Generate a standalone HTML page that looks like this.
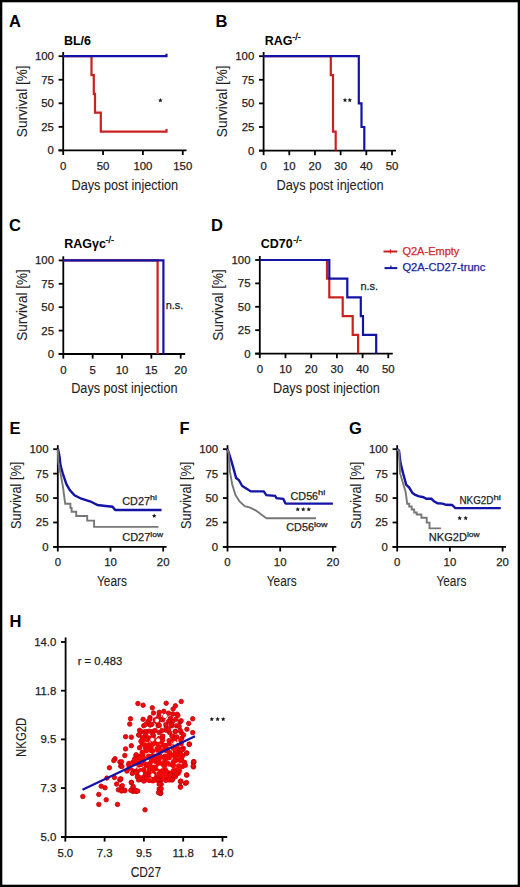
<!DOCTYPE html><html><head><meta charset="utf-8"><style>html,body{margin:0;padding:0;background:#fff;}svg{display:block}</style></head><body>
<svg width="520" height="887" viewBox="0 0 520 887" font-family='"Liberation Sans", sans-serif'>
<rect x="0" y="0" width="520" height="887" fill="#fff"/>
<text x="9" y="27.3" font-size="16.5" font-weight="bold" fill="#000">A</text>
<text x="215.5" y="27.3" font-size="16.5" font-weight="bold" fill="#000">B</text>
<text x="9" y="230.5" font-size="16.5" font-weight="bold" fill="#000">C</text>
<text x="211" y="230.5" font-size="16.5" font-weight="bold" fill="#000">D</text>
<text x="9.4" y="433.6" font-size="16.5" font-weight="bold" fill="#000">E</text>
<text x="179.5" y="433.6" font-size="16.5" font-weight="bold" fill="#000">F</text>
<text x="349" y="433.6" font-size="16.5" font-weight="bold" fill="#000">G</text>
<text x="9.5" y="626.9" font-size="16.5" font-weight="bold" fill="#000">H</text>
<line x1="63.2" y1="52" x2="63.2" y2="151.3" stroke="#000" stroke-width="1.8"/>
<line x1="58.6" y1="150.4" x2="186.5" y2="150.4" stroke="#000" stroke-width="1.8"/>
<line x1="58.6" y1="150.4" x2="63.2" y2="150.4" stroke="#000" stroke-width="1.8"/>
<text x="53.900000000000006" y="154.3" font-size="11.4" text-anchor="end" fill="#1e1e1e" stroke="#1e1e1e" stroke-width="0.25">0</text>
<line x1="58.6" y1="126.85000000000001" x2="63.2" y2="126.85000000000001" stroke="#000" stroke-width="1.8"/>
<text x="53.900000000000006" y="130.75" font-size="11.4" text-anchor="end" fill="#1e1e1e" stroke="#1e1e1e" stroke-width="0.25">25</text>
<line x1="58.6" y1="103.30000000000001" x2="63.2" y2="103.30000000000001" stroke="#000" stroke-width="1.8"/>
<text x="53.900000000000006" y="107.20000000000002" font-size="11.4" text-anchor="end" fill="#1e1e1e" stroke="#1e1e1e" stroke-width="0.25">50</text>
<line x1="58.6" y1="79.75" x2="63.2" y2="79.75" stroke="#000" stroke-width="1.8"/>
<text x="53.900000000000006" y="83.65" font-size="11.4" text-anchor="end" fill="#1e1e1e" stroke="#1e1e1e" stroke-width="0.25">75</text>
<line x1="58.6" y1="56.2" x2="63.2" y2="56.2" stroke="#000" stroke-width="1.8"/>
<text x="53.900000000000006" y="60.1" font-size="11.4" text-anchor="end" fill="#1e1e1e" stroke="#1e1e1e" stroke-width="0.25">100</text>
<line x1="63.2" y1="150.4" x2="63.2" y2="155.0" stroke="#000" stroke-width="1.8"/>
<line x1="103.05000000000001" y1="150.4" x2="103.05000000000001" y2="155.0" stroke="#000" stroke-width="1.8"/>
<line x1="142.9" y1="150.4" x2="142.9" y2="155.0" stroke="#000" stroke-width="1.8"/>
<line x1="182.75" y1="150.4" x2="182.75" y2="155.0" stroke="#000" stroke-width="1.8"/>
<text x="63.2" y="169.9" font-size="11.4" text-anchor="middle" fill="#1e1e1e" stroke="#1e1e1e" stroke-width="0.25">0</text>
<text x="103.05000000000001" y="169.9" font-size="11.4" text-anchor="middle" fill="#1e1e1e" stroke="#1e1e1e" stroke-width="0.25">50</text>
<text x="142.9" y="169.9" font-size="11.4" text-anchor="middle" fill="#1e1e1e" stroke="#1e1e1e" stroke-width="0.25">100</text>
<text x="182.75" y="169.9" font-size="11.4" text-anchor="middle" fill="#1e1e1e" stroke="#1e1e1e" stroke-width="0.25">150</text>
<text x="71.5" y="189.6" font-size="15.4" textLength="106.6" lengthAdjust="spacingAndGlyphs" fill="#1e1e1e" stroke="#1e1e1e" stroke-width="0.08">Days post injection</text>
<text x="0" y="0" font-size="15.4" text-anchor="middle" textLength="71.7" lengthAdjust="spacingAndGlyphs" fill="#1e1e1e" stroke="#1e1e1e" stroke-width="0.08" transform="translate(27.1,101.3) rotate(-90)">Survival [%]</text>
<text x="63.9" y="44.7" font-size="12.5" font-weight="bold" fill="#000">BL/6</text>
<polyline points="63.20,56.20 91.50,56.20 91.50,75.04 93.80,75.04 93.80,93.88 95.00,93.88 95.00,112.72 100.80,112.72 100.80,131.56 166.50,131.56 166.50,129.06" fill="none" stroke="#cc2020" stroke-width="2.2" stroke-linejoin="miter"/>
<polyline points="63.20,56.20 166.50,56.20 166.50,53.70" fill="none" stroke="#1313a6" stroke-width="2.2" stroke-linejoin="miter"/>
<polygon points="160.40,98.00 161.05,99.51 162.68,99.66 161.45,100.74 161.81,102.34 160.40,101.50 158.99,102.34 159.35,100.74 158.12,99.66 159.75,99.51" fill="#1a1a1a"/>
<line x1="263.6" y1="52" x2="263.6" y2="151.5" stroke="#000" stroke-width="1.8"/>
<line x1="259.0" y1="150.6" x2="396" y2="150.6" stroke="#000" stroke-width="1.8"/>
<line x1="259.0" y1="150.6" x2="263.6" y2="150.6" stroke="#000" stroke-width="1.8"/>
<text x="254.3" y="154.5" font-size="11.4" text-anchor="end" fill="#1e1e1e" stroke="#1e1e1e" stroke-width="0.25">0</text>
<line x1="259.0" y1="127.0" x2="263.6" y2="127.0" stroke="#000" stroke-width="1.8"/>
<text x="254.3" y="130.9" font-size="11.4" text-anchor="end" fill="#1e1e1e" stroke="#1e1e1e" stroke-width="0.25">25</text>
<line x1="259.0" y1="103.4" x2="263.6" y2="103.4" stroke="#000" stroke-width="1.8"/>
<text x="254.3" y="107.30000000000001" font-size="11.4" text-anchor="end" fill="#1e1e1e" stroke="#1e1e1e" stroke-width="0.25">50</text>
<line x1="259.0" y1="79.8" x2="263.6" y2="79.8" stroke="#000" stroke-width="1.8"/>
<text x="254.3" y="83.7" font-size="11.4" text-anchor="end" fill="#1e1e1e" stroke="#1e1e1e" stroke-width="0.25">75</text>
<line x1="259.0" y1="56.2" x2="263.6" y2="56.2" stroke="#000" stroke-width="1.8"/>
<text x="254.3" y="60.1" font-size="11.4" text-anchor="end" fill="#1e1e1e" stroke="#1e1e1e" stroke-width="0.25">100</text>
<line x1="263.6" y1="150.6" x2="263.6" y2="155.2" stroke="#000" stroke-width="1.8"/>
<line x1="289.28000000000003" y1="150.6" x2="289.28000000000003" y2="155.2" stroke="#000" stroke-width="1.8"/>
<line x1="314.96000000000004" y1="150.6" x2="314.96000000000004" y2="155.2" stroke="#000" stroke-width="1.8"/>
<line x1="340.64000000000004" y1="150.6" x2="340.64000000000004" y2="155.2" stroke="#000" stroke-width="1.8"/>
<line x1="366.32000000000005" y1="150.6" x2="366.32000000000005" y2="155.2" stroke="#000" stroke-width="1.8"/>
<line x1="392.0" y1="150.6" x2="392.0" y2="155.2" stroke="#000" stroke-width="1.8"/>
<text x="263.6" y="170.1" font-size="11.4" text-anchor="middle" fill="#1e1e1e" stroke="#1e1e1e" stroke-width="0.25">0</text>
<text x="289.28000000000003" y="170.1" font-size="11.4" text-anchor="middle" fill="#1e1e1e" stroke="#1e1e1e" stroke-width="0.25">10</text>
<text x="314.96000000000004" y="170.1" font-size="11.4" text-anchor="middle" fill="#1e1e1e" stroke="#1e1e1e" stroke-width="0.25">20</text>
<text x="340.64000000000004" y="170.1" font-size="11.4" text-anchor="middle" fill="#1e1e1e" stroke="#1e1e1e" stroke-width="0.25">30</text>
<text x="366.32000000000005" y="170.1" font-size="11.4" text-anchor="middle" fill="#1e1e1e" stroke="#1e1e1e" stroke-width="0.25">40</text>
<text x="392.0" y="170.1" font-size="11.4" text-anchor="middle" fill="#1e1e1e" stroke="#1e1e1e" stroke-width="0.25">50</text>
<text x="276.5" y="190" font-size="15.4" textLength="107.2" lengthAdjust="spacingAndGlyphs" fill="#1e1e1e" stroke="#1e1e1e" stroke-width="0.08">Days post injection</text>
<text x="0" y="0" font-size="15.4" text-anchor="middle" textLength="71.7" lengthAdjust="spacingAndGlyphs" fill="#1e1e1e" stroke="#1e1e1e" stroke-width="0.08" transform="translate(226.9,101.3) rotate(-90)">Survival [%]</text>
<text x="264.8" y="44.7" font-size="12.5" font-weight="bold" fill="#000">RAG</text>
<text x="292.2" y="40.2" font-size="9" fill="#000" stroke="#000" stroke-width="0.35">-/-</text>
<polyline points="263.60,56.20 330.80,56.20 330.80,75.08 333.00,75.08 333.00,131.72 335.70,131.72 335.70,150.60" fill="none" stroke="#cc2020" stroke-width="2.2" stroke-linejoin="miter"/>
<polyline points="263.60,56.20 358.80,56.20 358.80,103.40 361.50,103.40 361.50,127.00 364.30,127.00 364.30,150.60" fill="none" stroke="#1313a6" stroke-width="2.2" stroke-linejoin="miter"/>
<polygon points="345.00,97.80 345.65,99.31 347.28,99.46 346.05,100.54 346.41,102.14 345.00,101.30 343.59,102.14 343.95,100.54 342.72,99.46 344.35,99.31" fill="#1a1a1a"/>
<polygon points="349.80,97.80 350.45,99.31 352.08,99.46 350.85,100.54 351.21,102.14 349.80,101.30 348.39,102.14 348.75,100.54 347.52,99.46 349.15,99.31" fill="#1a1a1a"/>
<line x1="63.3" y1="256.3" x2="63.3" y2="354.9" stroke="#000" stroke-width="1.8"/>
<line x1="58.699999999999996" y1="354.0" x2="185.2" y2="354.0" stroke="#000" stroke-width="1.8"/>
<line x1="58.699999999999996" y1="354.0" x2="63.3" y2="354.0" stroke="#000" stroke-width="1.8"/>
<text x="54.0" y="357.9" font-size="11.4" text-anchor="end" fill="#1e1e1e" stroke="#1e1e1e" stroke-width="0.25">0</text>
<line x1="58.699999999999996" y1="330.6" x2="63.3" y2="330.6" stroke="#000" stroke-width="1.8"/>
<text x="54.0" y="334.5" font-size="11.4" text-anchor="end" fill="#1e1e1e" stroke="#1e1e1e" stroke-width="0.25">25</text>
<line x1="58.699999999999996" y1="307.2" x2="63.3" y2="307.2" stroke="#000" stroke-width="1.8"/>
<text x="54.0" y="311.09999999999997" font-size="11.4" text-anchor="end" fill="#1e1e1e" stroke="#1e1e1e" stroke-width="0.25">50</text>
<line x1="58.699999999999996" y1="283.79999999999995" x2="63.3" y2="283.79999999999995" stroke="#000" stroke-width="1.8"/>
<text x="54.0" y="287.69999999999993" font-size="11.4" text-anchor="end" fill="#1e1e1e" stroke="#1e1e1e" stroke-width="0.25">75</text>
<line x1="58.699999999999996" y1="260.4" x2="63.3" y2="260.4" stroke="#000" stroke-width="1.8"/>
<text x="54.0" y="264.29999999999995" font-size="11.4" text-anchor="end" fill="#1e1e1e" stroke="#1e1e1e" stroke-width="0.25">100</text>
<line x1="63.3" y1="354.0" x2="63.3" y2="358.6" stroke="#000" stroke-width="1.8"/>
<line x1="92.65" y1="354.0" x2="92.65" y2="358.6" stroke="#000" stroke-width="1.8"/>
<line x1="122.0" y1="354.0" x2="122.0" y2="358.6" stroke="#000" stroke-width="1.8"/>
<line x1="151.35" y1="354.0" x2="151.35" y2="358.6" stroke="#000" stroke-width="1.8"/>
<line x1="180.7" y1="354.0" x2="180.7" y2="358.6" stroke="#000" stroke-width="1.8"/>
<text x="63.3" y="373.5" font-size="11.4" text-anchor="middle" fill="#1e1e1e" stroke="#1e1e1e" stroke-width="0.25">0</text>
<text x="92.65" y="373.5" font-size="11.4" text-anchor="middle" fill="#1e1e1e" stroke="#1e1e1e" stroke-width="0.25">5</text>
<text x="122.0" y="373.5" font-size="11.4" text-anchor="middle" fill="#1e1e1e" stroke="#1e1e1e" stroke-width="0.25">10</text>
<text x="151.35" y="373.5" font-size="11.4" text-anchor="middle" fill="#1e1e1e" stroke="#1e1e1e" stroke-width="0.25">15</text>
<text x="180.7" y="373.5" font-size="11.4" text-anchor="middle" fill="#1e1e1e" stroke="#1e1e1e" stroke-width="0.25">20</text>
<text x="71.2" y="392.7" font-size="15.4" textLength="106.3" lengthAdjust="spacingAndGlyphs" fill="#1e1e1e" stroke="#1e1e1e" stroke-width="0.08">Days post injection</text>
<text x="0" y="0" font-size="15.4" text-anchor="middle" textLength="71.7" lengthAdjust="spacingAndGlyphs" fill="#1e1e1e" stroke="#1e1e1e" stroke-width="0.08" transform="translate(27.1,305) rotate(-90)">Survival [%]</text>
<text x="64.3" y="247.6" font-size="12.5" font-weight="bold" fill="#000">RAG&#947;c</text>
<text x="105.6" y="243.2" font-size="9" fill="#000" stroke="#000" stroke-width="0.35">-/-</text>
<polyline points="63.30,260.40 157.60,260.40 157.60,354.00" fill="none" stroke="#cc2020" stroke-width="2.2" stroke-linejoin="miter"/>
<polyline points="63.30,260.40 163.40,260.40 163.40,354.00" fill="none" stroke="#1313a6" stroke-width="2.2" stroke-linejoin="miter"/>
<text x="165.7" y="309" font-size="11" fill="#1e1e1e" stroke="#1e1e1e" stroke-width="0.25">n.s.</text>
<line x1="259.8" y1="256" x2="259.8" y2="354.5" stroke="#000" stroke-width="1.8"/>
<line x1="255.20000000000002" y1="353.6" x2="392.8" y2="353.6" stroke="#000" stroke-width="1.8"/>
<line x1="255.20000000000002" y1="353.6" x2="259.8" y2="353.6" stroke="#000" stroke-width="1.8"/>
<text x="250.5" y="357.5" font-size="11.4" text-anchor="end" fill="#1e1e1e" stroke="#1e1e1e" stroke-width="0.25">0</text>
<line x1="255.20000000000002" y1="330.20000000000005" x2="259.8" y2="330.20000000000005" stroke="#000" stroke-width="1.8"/>
<text x="250.5" y="334.1" font-size="11.4" text-anchor="end" fill="#1e1e1e" stroke="#1e1e1e" stroke-width="0.25">25</text>
<line x1="255.20000000000002" y1="306.8" x2="259.8" y2="306.8" stroke="#000" stroke-width="1.8"/>
<text x="250.5" y="310.7" font-size="11.4" text-anchor="end" fill="#1e1e1e" stroke="#1e1e1e" stroke-width="0.25">50</text>
<line x1="255.20000000000002" y1="283.4" x2="259.8" y2="283.4" stroke="#000" stroke-width="1.8"/>
<text x="250.5" y="287.29999999999995" font-size="11.4" text-anchor="end" fill="#1e1e1e" stroke="#1e1e1e" stroke-width="0.25">75</text>
<line x1="255.20000000000002" y1="260.0" x2="259.8" y2="260.0" stroke="#000" stroke-width="1.8"/>
<text x="250.5" y="263.9" font-size="11.4" text-anchor="end" fill="#1e1e1e" stroke="#1e1e1e" stroke-width="0.25">100</text>
<line x1="259.8" y1="353.6" x2="259.8" y2="358.20000000000005" stroke="#000" stroke-width="1.8"/>
<line x1="285.5" y1="353.6" x2="285.5" y2="358.20000000000005" stroke="#000" stroke-width="1.8"/>
<line x1="311.2" y1="353.6" x2="311.2" y2="358.20000000000005" stroke="#000" stroke-width="1.8"/>
<line x1="336.9" y1="353.6" x2="336.9" y2="358.20000000000005" stroke="#000" stroke-width="1.8"/>
<line x1="362.6" y1="353.6" x2="362.6" y2="358.20000000000005" stroke="#000" stroke-width="1.8"/>
<line x1="388.3" y1="353.6" x2="388.3" y2="358.20000000000005" stroke="#000" stroke-width="1.8"/>
<text x="259.8" y="373.1" font-size="11.4" text-anchor="middle" fill="#1e1e1e" stroke="#1e1e1e" stroke-width="0.25">0</text>
<text x="285.5" y="373.1" font-size="11.4" text-anchor="middle" fill="#1e1e1e" stroke="#1e1e1e" stroke-width="0.25">10</text>
<text x="311.2" y="373.1" font-size="11.4" text-anchor="middle" fill="#1e1e1e" stroke="#1e1e1e" stroke-width="0.25">20</text>
<text x="336.9" y="373.1" font-size="11.4" text-anchor="middle" fill="#1e1e1e" stroke="#1e1e1e" stroke-width="0.25">30</text>
<text x="362.6" y="373.1" font-size="11.4" text-anchor="middle" fill="#1e1e1e" stroke="#1e1e1e" stroke-width="0.25">40</text>
<text x="388.3" y="373.1" font-size="11.4" text-anchor="middle" fill="#1e1e1e" stroke="#1e1e1e" stroke-width="0.25">50</text>
<text x="273.1" y="393.4" font-size="15.4" textLength="106.7" lengthAdjust="spacingAndGlyphs" fill="#1e1e1e" stroke="#1e1e1e" stroke-width="0.08">Days post injection</text>
<text x="0" y="0" font-size="15.4" text-anchor="middle" textLength="71.7" lengthAdjust="spacingAndGlyphs" fill="#1e1e1e" stroke="#1e1e1e" stroke-width="0.08" transform="translate(222.8,305) rotate(-90)">Survival [%]</text>
<text x="260.8" y="248.0" font-size="12.5" font-weight="bold" fill="#000">CD70</text>
<text x="293.3" y="243.0" font-size="9" fill="#000" stroke="#000" stroke-width="0.35">-/-</text>
<polyline points="259.80,260.00 327.00,260.00 327.00,278.72 329.30,278.72 329.30,297.44 342.70,297.44 342.70,316.16 352.70,316.16 352.70,334.88 358.10,334.88 358.10,353.60" fill="none" stroke="#cc2020" stroke-width="2.2" stroke-linejoin="miter"/>
<polyline points="259.80,260.00 329.30,260.00 329.30,278.72 347.30,278.72 347.30,297.44 360.80,297.44 360.80,316.16 363.00,316.16 363.00,334.88 376.20,334.88 376.20,353.60" fill="none" stroke="#1313a6" stroke-width="2.2" stroke-linejoin="miter"/>
<text x="360.4" y="290" font-size="11" fill="#1e1e1e" stroke="#1e1e1e" stroke-width="0.25">n.s.</text>
<line x1="383.5" y1="251.5" x2="397.3" y2="251.5" stroke="#cc2020" stroke-width="2"/>
<line x1="390.4" y1="249.5" x2="390.4" y2="253.5" stroke="#cc2020" stroke-width="1.2"/>
<line x1="384.5" y1="268.1" x2="397.3" y2="268.1" stroke="#1313a6" stroke-width="2"/>
<line x1="390.9" y1="265.5" x2="390.9" y2="268.1" stroke="#1313a6" stroke-width="1.2"/>
<text x="402.4" y="255.2" font-size="10" textLength="57" lengthAdjust="spacingAndGlyphs" fill="#d02a30" stroke="#d02a30" stroke-width="0.25">Q2A-Empty</text>
<text x="402.4" y="271.3" font-size="10" textLength="83" lengthAdjust="spacingAndGlyphs" fill="#22229e" stroke="#22229e" stroke-width="0.25">Q2A-CD27-trunc</text>
<line x1="57.8" y1="445.2" x2="57.8" y2="547.8" stroke="#000" stroke-width="1.8"/>
<line x1="53.199999999999996" y1="546.9" x2="166.6" y2="546.9" stroke="#000" stroke-width="1.8"/>
<line x1="53.199999999999996" y1="546.9" x2="57.8" y2="546.9" stroke="#000" stroke-width="1.8"/>
<text x="48.5" y="550.8" font-size="11.4" text-anchor="end" fill="#1e1e1e" stroke="#1e1e1e" stroke-width="0.25">0</text>
<line x1="53.199999999999996" y1="522.475" x2="57.8" y2="522.475" stroke="#000" stroke-width="1.8"/>
<text x="48.5" y="526.375" font-size="11.4" text-anchor="end" fill="#1e1e1e" stroke="#1e1e1e" stroke-width="0.25">25</text>
<line x1="53.199999999999996" y1="498.04999999999995" x2="57.8" y2="498.04999999999995" stroke="#000" stroke-width="1.8"/>
<text x="48.5" y="501.94999999999993" font-size="11.4" text-anchor="end" fill="#1e1e1e" stroke="#1e1e1e" stroke-width="0.25">50</text>
<line x1="53.199999999999996" y1="473.625" x2="57.8" y2="473.625" stroke="#000" stroke-width="1.8"/>
<text x="48.5" y="477.525" font-size="11.4" text-anchor="end" fill="#1e1e1e" stroke="#1e1e1e" stroke-width="0.25">75</text>
<line x1="53.199999999999996" y1="449.2" x2="57.8" y2="449.2" stroke="#000" stroke-width="1.8"/>
<text x="48.5" y="453.09999999999997" font-size="11.4" text-anchor="end" fill="#1e1e1e" stroke="#1e1e1e" stroke-width="0.25">100</text>
<line x1="57.8" y1="546.9" x2="57.8" y2="551.5" stroke="#000" stroke-width="1.8"/>
<line x1="110.5" y1="546.9" x2="110.5" y2="551.5" stroke="#000" stroke-width="1.8"/>
<line x1="163.2" y1="546.9" x2="163.2" y2="551.5" stroke="#000" stroke-width="1.8"/>
<text x="57.8" y="566.3" font-size="11.4" text-anchor="middle" fill="#1e1e1e" stroke="#1e1e1e" stroke-width="0.25">0</text>
<text x="110.5" y="566.3" font-size="11.4" text-anchor="middle" fill="#1e1e1e" stroke="#1e1e1e" stroke-width="0.25">10</text>
<text x="163.2" y="566.3" font-size="11.4" text-anchor="middle" fill="#1e1e1e" stroke="#1e1e1e" stroke-width="0.25">20</text>
<text x="112.0" y="585.8" font-size="15.2" text-anchor="middle" textLength="30" lengthAdjust="spacingAndGlyphs" fill="#1e1e1e" stroke="#1e1e1e" stroke-width="0.08">Years</text>
<text x="0" y="0" font-size="15.4" text-anchor="middle" textLength="67.2" lengthAdjust="spacingAndGlyphs" fill="#1e1e1e" stroke="#1e1e1e" stroke-width="0.08" transform="translate(21.299999999999997,495.3) rotate(-90)">Survival [%]</text>
<line x1="227.5" y1="445.2" x2="227.5" y2="547.8" stroke="#000" stroke-width="1.8"/>
<line x1="222.9" y1="546.9" x2="336.3" y2="546.9" stroke="#000" stroke-width="1.8"/>
<line x1="222.9" y1="546.9" x2="227.5" y2="546.9" stroke="#000" stroke-width="1.8"/>
<text x="218.2" y="550.8" font-size="11.4" text-anchor="end" fill="#1e1e1e" stroke="#1e1e1e" stroke-width="0.25">0</text>
<line x1="222.9" y1="522.475" x2="227.5" y2="522.475" stroke="#000" stroke-width="1.8"/>
<text x="218.2" y="526.375" font-size="11.4" text-anchor="end" fill="#1e1e1e" stroke="#1e1e1e" stroke-width="0.25">25</text>
<line x1="222.9" y1="498.04999999999995" x2="227.5" y2="498.04999999999995" stroke="#000" stroke-width="1.8"/>
<text x="218.2" y="501.94999999999993" font-size="11.4" text-anchor="end" fill="#1e1e1e" stroke="#1e1e1e" stroke-width="0.25">50</text>
<line x1="222.9" y1="473.625" x2="227.5" y2="473.625" stroke="#000" stroke-width="1.8"/>
<text x="218.2" y="477.525" font-size="11.4" text-anchor="end" fill="#1e1e1e" stroke="#1e1e1e" stroke-width="0.25">75</text>
<line x1="222.9" y1="449.2" x2="227.5" y2="449.2" stroke="#000" stroke-width="1.8"/>
<text x="218.2" y="453.09999999999997" font-size="11.4" text-anchor="end" fill="#1e1e1e" stroke="#1e1e1e" stroke-width="0.25">100</text>
<line x1="227.5" y1="546.9" x2="227.5" y2="551.5" stroke="#000" stroke-width="1.8"/>
<line x1="280.2" y1="546.9" x2="280.2" y2="551.5" stroke="#000" stroke-width="1.8"/>
<line x1="332.9" y1="546.9" x2="332.9" y2="551.5" stroke="#000" stroke-width="1.8"/>
<text x="227.5" y="566.3" font-size="11.4" text-anchor="middle" fill="#1e1e1e" stroke="#1e1e1e" stroke-width="0.25">0</text>
<text x="280.2" y="566.3" font-size="11.4" text-anchor="middle" fill="#1e1e1e" stroke="#1e1e1e" stroke-width="0.25">10</text>
<text x="332.9" y="566.3" font-size="11.4" text-anchor="middle" fill="#1e1e1e" stroke="#1e1e1e" stroke-width="0.25">20</text>
<text x="281.7" y="585.8" font-size="15.2" text-anchor="middle" textLength="30" lengthAdjust="spacingAndGlyphs" fill="#1e1e1e" stroke="#1e1e1e" stroke-width="0.08">Years</text>
<text x="0" y="0" font-size="15.4" text-anchor="middle" textLength="67.2" lengthAdjust="spacingAndGlyphs" fill="#1e1e1e" stroke="#1e1e1e" stroke-width="0.08" transform="translate(191.0,495.3) rotate(-90)">Survival [%]</text>
<line x1="397.2" y1="445.2" x2="397.2" y2="547.8" stroke="#000" stroke-width="1.8"/>
<line x1="392.59999999999997" y1="546.9" x2="506.0" y2="546.9" stroke="#000" stroke-width="1.8"/>
<line x1="392.59999999999997" y1="546.9" x2="397.2" y2="546.9" stroke="#000" stroke-width="1.8"/>
<text x="387.9" y="550.8" font-size="11.4" text-anchor="end" fill="#1e1e1e" stroke="#1e1e1e" stroke-width="0.25">0</text>
<line x1="392.59999999999997" y1="522.475" x2="397.2" y2="522.475" stroke="#000" stroke-width="1.8"/>
<text x="387.9" y="526.375" font-size="11.4" text-anchor="end" fill="#1e1e1e" stroke="#1e1e1e" stroke-width="0.25">25</text>
<line x1="392.59999999999997" y1="498.04999999999995" x2="397.2" y2="498.04999999999995" stroke="#000" stroke-width="1.8"/>
<text x="387.9" y="501.94999999999993" font-size="11.4" text-anchor="end" fill="#1e1e1e" stroke="#1e1e1e" stroke-width="0.25">50</text>
<line x1="392.59999999999997" y1="473.625" x2="397.2" y2="473.625" stroke="#000" stroke-width="1.8"/>
<text x="387.9" y="477.525" font-size="11.4" text-anchor="end" fill="#1e1e1e" stroke="#1e1e1e" stroke-width="0.25">75</text>
<line x1="392.59999999999997" y1="449.2" x2="397.2" y2="449.2" stroke="#000" stroke-width="1.8"/>
<text x="387.9" y="453.09999999999997" font-size="11.4" text-anchor="end" fill="#1e1e1e" stroke="#1e1e1e" stroke-width="0.25">100</text>
<line x1="397.2" y1="546.9" x2="397.2" y2="551.5" stroke="#000" stroke-width="1.8"/>
<line x1="449.9" y1="546.9" x2="449.9" y2="551.5" stroke="#000" stroke-width="1.8"/>
<line x1="502.59999999999997" y1="546.9" x2="502.59999999999997" y2="551.5" stroke="#000" stroke-width="1.8"/>
<text x="397.2" y="566.3" font-size="11.4" text-anchor="middle" fill="#1e1e1e" stroke="#1e1e1e" stroke-width="0.25">0</text>
<text x="449.9" y="566.3" font-size="11.4" text-anchor="middle" fill="#1e1e1e" stroke="#1e1e1e" stroke-width="0.25">10</text>
<text x="502.59999999999997" y="566.3" font-size="11.4" text-anchor="middle" fill="#1e1e1e" stroke="#1e1e1e" stroke-width="0.25">20</text>
<text x="451.4" y="585.8" font-size="15.2" text-anchor="middle" textLength="30" lengthAdjust="spacingAndGlyphs" fill="#1e1e1e" stroke="#1e1e1e" stroke-width="0.08">Years</text>
<text x="0" y="0" font-size="15.4" text-anchor="middle" textLength="67.2" lengthAdjust="spacingAndGlyphs" fill="#1e1e1e" stroke="#1e1e1e" stroke-width="0.08" transform="translate(360.7,495.3) rotate(-90)">Survival [%]</text>
<polyline points="57.80,449.30 58.30,450.20 59.50,456.50 60.60,465.80 62.90,473.80 66.40,484.20 69.80,490.00 74.50,495.20 81.40,498.70 90.60,501.50 97.50,505.00 105.60,506.00 112.50,506.70 114.80,509.60 115.40,510.00 161.50,510.00" fill="none" stroke="#1313a6" stroke-width="2.4" stroke-linejoin="miter"/>
<polyline points="57.80,449.30 58.30,462.30 60.60,473.80 62.90,486.50 65.20,503.80 70.40,503.80 70.40,507.90 71.60,507.90 71.60,511.70 76.20,511.70 76.20,516.00 87.20,516.00 87.20,520.60 94.10,520.60 94.10,526.90 158.50,526.90" fill="none" stroke="#777777" stroke-width="1.9" stroke-linejoin="miter"/>
<text x="122.3" y="504.6" font-size="11" textLength="27.7" lengthAdjust="spacingAndGlyphs" fill="#1e1e1e" stroke="#1e1e1e" stroke-width="0.25">CD27</text>
<text x="150" y="500.3" font-size="7.5" textLength="6.9" lengthAdjust="spacingAndGlyphs" fill="#1e1e1e" stroke="#1e1e1e" stroke-width="0.25">hi</text>
<text x="122.3" y="540.8" font-size="11" textLength="28" lengthAdjust="spacingAndGlyphs" fill="#1e1e1e" stroke="#1e1e1e" stroke-width="0.25">CD27</text>
<text x="150.3" y="536.5" font-size="7.5" textLength="12.7" lengthAdjust="spacingAndGlyphs" fill="#1e1e1e" stroke="#1e1e1e" stroke-width="0.25">low</text>
<polygon points="154.20,513.50 154.85,515.01 156.48,515.16 155.25,516.24 155.61,517.84 154.20,517.00 152.79,517.84 153.15,516.24 151.92,515.16 153.55,515.01" fill="#1a1a1a"/>
<polyline points="227.50,449.30 228.70,452.40 231.40,461.20 234.10,470.60 236.10,478.00 238.80,480.00 242.20,486.00 245.50,488.10 250.90,491.40 263.70,491.40 266.40,495.10 275.10,495.90 276.50,498.20 283.20,498.80 285.20,502.90 286.00,503.60 332.90,503.60" fill="none" stroke="#1313a6" stroke-width="2.4" stroke-linejoin="miter"/>
<polyline points="227.50,449.30 228.70,453.10 230.00,471.90 232.10,484.00 235.40,494.80 239.50,501.50 244.80,506.20 250.20,507.60 255.60,510.30 261.00,514.30 266.40,518.20 316.00,518.20" fill="none" stroke="#777777" stroke-width="1.9" stroke-linejoin="miter"/>
<text x="290.6" y="499.6" font-size="11" textLength="27.5" lengthAdjust="spacingAndGlyphs" fill="#1e1e1e" stroke="#1e1e1e" stroke-width="0.25">CD56</text>
<text x="318.1" y="495.3" font-size="7.5" textLength="7.2" lengthAdjust="spacingAndGlyphs" fill="#1e1e1e" stroke="#1e1e1e" stroke-width="0.25">hi</text>
<text x="286.3" y="531.3" font-size="11" textLength="27.6" lengthAdjust="spacingAndGlyphs" fill="#1e1e1e" stroke="#1e1e1e" stroke-width="0.25">CD56</text>
<text x="313.9" y="527" font-size="7.5" textLength="13.5" lengthAdjust="spacingAndGlyphs" fill="#1e1e1e" stroke="#1e1e1e" stroke-width="0.25">low</text>
<polygon points="297.75,506.90 298.40,508.41 300.03,508.56 298.80,509.64 299.16,511.24 297.75,510.40 296.34,511.24 296.70,509.64 295.47,508.56 297.10,508.41" fill="#1a1a1a"/>
<polygon points="303.25,506.90 303.90,508.41 305.53,508.56 304.30,509.64 304.66,511.24 303.25,510.40 301.84,511.24 302.20,509.64 300.97,508.56 302.60,508.41" fill="#1a1a1a"/>
<polygon points="308.75,506.90 309.40,508.41 311.03,508.56 309.80,509.64 310.16,511.24 308.75,510.40 307.34,511.24 307.70,509.64 306.47,508.56 308.10,508.41" fill="#1a1a1a"/>
<polyline points="397.20,449.30 399.00,450.60 400.60,463.30 403.10,473.40 405.10,480.50 406.10,484.60 409.20,487.60 412.20,492.70 414.80,494.70 418.30,496.20 423.40,497.20 426.40,498.80 431.50,498.80 434.00,501.30 437.60,503.30 442.70,503.60 446.00,504.80 452.10,505.00 455.30,508.10 500.80,508.10" fill="none" stroke="#1313a6" stroke-width="2.4" stroke-linejoin="miter"/>
<polyline points="397.20,449.30 399.00,451.10 400.10,473.40 403.10,483.50 405.60,491.70 407.20,503.80 409.20,503.80 409.20,506.50 411.70,506.50 411.70,509.50 414.20,509.50 414.20,512.50 416.70,512.50 416.70,514.50 421.40,514.50 421.40,517.80 426.70,517.80 426.70,522.60 429.50,522.60 429.50,528.40 441.10,528.40" fill="none" stroke="#777777" stroke-width="1.9" stroke-linejoin="miter"/>
<text x="459.5" y="503.8" font-size="11" textLength="33.9" lengthAdjust="spacingAndGlyphs" fill="#1e1e1e" stroke="#1e1e1e" stroke-width="0.25">NKG2D</text>
<text x="493.4" y="499.5" font-size="7.5" textLength="7.4" lengthAdjust="spacingAndGlyphs" fill="#1e1e1e" stroke="#1e1e1e" stroke-width="0.25">hi</text>
<text x="428.8" y="540.9" font-size="11" textLength="38.1" lengthAdjust="spacingAndGlyphs" fill="#1e1e1e" stroke="#1e1e1e" stroke-width="0.25">NKG2D</text>
<text x="466.9" y="536.6" font-size="7.5" textLength="12.7" lengthAdjust="spacingAndGlyphs" fill="#1e1e1e" stroke="#1e1e1e" stroke-width="0.25">low</text>
<polygon points="459.70,515.80 460.35,517.31 461.98,517.46 460.75,518.54 461.11,520.14 459.70,519.30 458.29,520.14 458.65,518.54 457.42,517.46 459.05,517.31" fill="#1a1a1a"/>
<polygon points="465.70,515.80 466.35,517.31 467.98,517.46 466.75,518.54 467.11,520.14 465.70,519.30 464.29,520.14 464.65,518.54 463.42,517.46 465.05,517.31" fill="#1a1a1a"/>
<line x1="65.6" y1="637.5" x2="65.6" y2="837.9" stroke="#000" stroke-width="1.8"/>
<line x1="60.99999999999999" y1="837.0" x2="227.2" y2="837.0" stroke="#000" stroke-width="1.8"/>
<line x1="60.99999999999999" y1="642.0" x2="65.6" y2="642.0" stroke="#000" stroke-width="1.8"/>
<text x="56.3" y="645.9" font-size="11.4" text-anchor="end" fill="#1e1e1e" stroke="#1e1e1e" stroke-width="0.25">14.0</text>
<line x1="60.99999999999999" y1="690.7" x2="65.6" y2="690.7" stroke="#000" stroke-width="1.8"/>
<text x="56.3" y="694.6" font-size="11.4" text-anchor="end" fill="#1e1e1e" stroke="#1e1e1e" stroke-width="0.25">11.8</text>
<line x1="60.99999999999999" y1="739.4" x2="65.6" y2="739.4" stroke="#000" stroke-width="1.8"/>
<text x="56.3" y="743.3" font-size="11.4" text-anchor="end" fill="#1e1e1e" stroke="#1e1e1e" stroke-width="0.25">9.5</text>
<line x1="60.99999999999999" y1="788.1" x2="65.6" y2="788.1" stroke="#000" stroke-width="1.8"/>
<text x="56.3" y="792.0" font-size="11.4" text-anchor="end" fill="#1e1e1e" stroke="#1e1e1e" stroke-width="0.25">7.3</text>
<line x1="60.99999999999999" y1="837.0" x2="65.6" y2="837.0" stroke="#000" stroke-width="1.8"/>
<text x="56.3" y="840.9" font-size="11.4" text-anchor="end" fill="#1e1e1e" stroke="#1e1e1e" stroke-width="0.25">5.0</text>
<line x1="65.3" y1="837.0" x2="65.3" y2="841.6" stroke="#000" stroke-width="1.8"/>
<line x1="104.6" y1="837.0" x2="104.6" y2="841.6" stroke="#000" stroke-width="1.8"/>
<line x1="143.9" y1="837.0" x2="143.9" y2="841.6" stroke="#000" stroke-width="1.8"/>
<line x1="183.2" y1="837.0" x2="183.2" y2="841.6" stroke="#000" stroke-width="1.8"/>
<line x1="222.5" y1="837.0" x2="222.5" y2="841.6" stroke="#000" stroke-width="1.8"/>
<text x="65.3" y="856.6" font-size="11.4" text-anchor="middle" fill="#1e1e1e" stroke="#1e1e1e" stroke-width="0.25">5.0</text>
<text x="104.6" y="856.6" font-size="11.4" text-anchor="middle" fill="#1e1e1e" stroke="#1e1e1e" stroke-width="0.25">7.3</text>
<text x="143.9" y="856.6" font-size="11.4" text-anchor="middle" fill="#1e1e1e" stroke="#1e1e1e" stroke-width="0.25">9.5</text>
<text x="183.2" y="856.6" font-size="11.4" text-anchor="middle" fill="#1e1e1e" stroke="#1e1e1e" stroke-width="0.25">11.8</text>
<text x="222.5" y="856.6" font-size="11.4" text-anchor="middle" fill="#1e1e1e" stroke="#1e1e1e" stroke-width="0.25">14.0</text>
<text x="145.9" y="876.7" font-size="15.4" text-anchor="middle" textLength="30.5" lengthAdjust="spacingAndGlyphs" fill="#1e1e1e" stroke="#1e1e1e" stroke-width="0.08">CD27</text>
<text x="0" y="0" font-size="15.2" text-anchor="middle" textLength="39.3" lengthAdjust="spacingAndGlyphs" fill="#1e1e1e" stroke="#1e1e1e" stroke-width="0.08" transform="translate(25.5,737.3) rotate(-90)">NKG2D</text>
<text x="77.8" y="665" font-size="10.5" textLength="44.4" lengthAdjust="spacingAndGlyphs" fill="#1e1e1e" stroke="#1e1e1e" stroke-width="0.25">r = 0.483</text>
<polygon points="211.80,716.80 212.45,718.31 214.08,718.46 212.85,719.54 213.21,721.14 211.80,720.30 210.39,721.14 210.75,719.54 209.52,718.46 211.15,718.31" fill="#1a1a1a"/>
<polygon points="217.60,716.80 218.25,718.31 219.88,718.46 218.65,719.54 219.01,721.14 217.60,720.30 216.19,721.14 216.55,719.54 215.32,718.46 216.95,718.31" fill="#1a1a1a"/>
<polygon points="223.20,716.80 223.85,718.31 225.48,718.46 224.25,719.54 224.61,721.14 223.20,720.30 221.79,721.14 222.15,719.54 220.92,718.46 222.55,718.31" fill="#1a1a1a"/>
<g fill="#ee0808">
<circle cx="142.4" cy="737.8" r="2.6"/>
<circle cx="144.9" cy="736.4" r="2.6"/>
<circle cx="148.9" cy="737.9" r="2.6"/>
<circle cx="159.4" cy="738.3" r="2.6"/>
<circle cx="162.4" cy="737.3" r="2.6"/>
<circle cx="173.1" cy="736.3" r="2.6"/>
<circle cx="176.7" cy="736.9" r="2.6"/>
<circle cx="181.8" cy="738.0" r="2.6"/>
<circle cx="141.0" cy="741.2" r="2.6"/>
<circle cx="143.5" cy="739.8" r="2.6"/>
<circle cx="147.4" cy="739.4" r="2.6"/>
<circle cx="152.7" cy="740.3" r="2.6"/>
<circle cx="157.0" cy="740.3" r="2.6"/>
<circle cx="161.3" cy="741.6" r="2.6"/>
<circle cx="162.6" cy="739.8" r="2.6"/>
<circle cx="169.1" cy="740.5" r="2.6"/>
<circle cx="173.3" cy="740.3" r="2.6"/>
<circle cx="174.8" cy="741.0" r="2.6"/>
<circle cx="180.8" cy="740.0" r="2.6"/>
<circle cx="142.2" cy="744.1" r="2.6"/>
<circle cx="145.1" cy="744.8" r="2.6"/>
<circle cx="149.0" cy="744.6" r="2.6"/>
<circle cx="152.9" cy="744.0" r="2.6"/>
<circle cx="157.2" cy="743.6" r="2.6"/>
<circle cx="163.3" cy="745.0" r="2.6"/>
<circle cx="165.5" cy="745.3" r="2.6"/>
<circle cx="169.2" cy="743.9" r="2.6"/>
<circle cx="175.0" cy="744.6" r="2.6"/>
<circle cx="176.9" cy="745.6" r="2.6"/>
<circle cx="181.2" cy="743.5" r="2.6"/>
<circle cx="139.6" cy="747.7" r="2.6"/>
<circle cx="145.3" cy="747.8" r="2.6"/>
<circle cx="148.2" cy="748.8" r="2.6"/>
<circle cx="151.1" cy="746.8" r="2.6"/>
<circle cx="157.1" cy="748.7" r="2.6"/>
<circle cx="159.3" cy="746.9" r="2.6"/>
<circle cx="164.7" cy="749.0" r="2.6"/>
<circle cx="167.2" cy="749.1" r="2.6"/>
<circle cx="173.1" cy="748.1" r="2.6"/>
<circle cx="175.8" cy="746.7" r="2.6"/>
<circle cx="178.7" cy="749.1" r="2.6"/>
<circle cx="183.3" cy="748.4" r="2.6"/>
<circle cx="142.2" cy="752.4" r="2.6"/>
<circle cx="146.3" cy="750.8" r="2.6"/>
<circle cx="151.2" cy="750.6" r="2.6"/>
<circle cx="152.6" cy="750.8" r="2.6"/>
<circle cx="157.8" cy="750.2" r="2.6"/>
<circle cx="161.1" cy="751.0" r="2.6"/>
<circle cx="166.2" cy="750.4" r="2.6"/>
<circle cx="169.6" cy="752.5" r="2.6"/>
<circle cx="175.3" cy="751.8" r="2.6"/>
<circle cx="178.5" cy="751.6" r="2.6"/>
<circle cx="181.0" cy="750.1" r="2.6"/>
<circle cx="136.0" cy="755.6" r="2.6"/>
<circle cx="139.5" cy="756.4" r="2.6"/>
<circle cx="142.8" cy="755.1" r="2.6"/>
<circle cx="148.7" cy="756.1" r="2.6"/>
<circle cx="152.7" cy="755.6" r="2.6"/>
<circle cx="156.8" cy="756.2" r="2.6"/>
<circle cx="159.6" cy="755.5" r="2.6"/>
<circle cx="165.1" cy="756.0" r="2.6"/>
<circle cx="167.8" cy="755.8" r="2.6"/>
<circle cx="173.0" cy="755.2" r="2.6"/>
<circle cx="176.3" cy="754.7" r="2.6"/>
<circle cx="180.2" cy="755.3" r="2.6"/>
<circle cx="182.8" cy="755.4" r="2.6"/>
<circle cx="134.7" cy="758.8" r="2.6"/>
<circle cx="137.8" cy="759.5" r="2.6"/>
<circle cx="140.8" cy="759.3" r="2.6"/>
<circle cx="144.7" cy="758.9" r="2.6"/>
<circle cx="149.9" cy="757.8" r="2.6"/>
<circle cx="154.6" cy="758.6" r="2.6"/>
<circle cx="158.3" cy="759.8" r="2.6"/>
<circle cx="161.3" cy="757.2" r="2.6"/>
<circle cx="165.4" cy="759.1" r="2.6"/>
<circle cx="169.2" cy="757.7" r="2.6"/>
<circle cx="175.1" cy="759.0" r="2.6"/>
<circle cx="177.8" cy="759.7" r="2.6"/>
<circle cx="181.5" cy="759.1" r="2.6"/>
<circle cx="128.9" cy="763.4" r="2.6"/>
<circle cx="133.1" cy="761.9" r="2.6"/>
<circle cx="136.2" cy="761.7" r="2.6"/>
<circle cx="139.0" cy="762.2" r="2.6"/>
<circle cx="144.9" cy="763.2" r="2.6"/>
<circle cx="148.6" cy="763.5" r="2.6"/>
<circle cx="151.4" cy="761.3" r="2.6"/>
<circle cx="155.9" cy="761.6" r="2.6"/>
<circle cx="159.2" cy="762.0" r="2.6"/>
<circle cx="164.4" cy="762.2" r="2.6"/>
<circle cx="167.5" cy="763.1" r="2.6"/>
<circle cx="173.3" cy="762.1" r="2.6"/>
<circle cx="174.8" cy="760.9" r="2.6"/>
<circle cx="181.0" cy="760.9" r="2.6"/>
<circle cx="184.6" cy="762.4" r="2.6"/>
<circle cx="128.7" cy="764.8" r="2.6"/>
<circle cx="133.9" cy="764.5" r="2.6"/>
<circle cx="138.9" cy="765.1" r="2.6"/>
<circle cx="141.0" cy="764.5" r="2.6"/>
<circle cx="146.4" cy="765.7" r="2.6"/>
<circle cx="150.4" cy="766.2" r="2.6"/>
<circle cx="154.9" cy="767.1" r="2.6"/>
<circle cx="158.5" cy="765.0" r="2.6"/>
<circle cx="161.9" cy="764.9" r="2.6"/>
<circle cx="164.6" cy="765.7" r="2.6"/>
<circle cx="170.6" cy="764.9" r="2.6"/>
<circle cx="173.4" cy="765.4" r="2.6"/>
<circle cx="178.6" cy="765.9" r="2.6"/>
<circle cx="182.3" cy="766.5" r="2.6"/>
<circle cx="129.1" cy="768.2" r="2.6"/>
<circle cx="133.2" cy="770.0" r="2.6"/>
<circle cx="135.0" cy="769.3" r="2.6"/>
<circle cx="140.4" cy="770.5" r="2.6"/>
<circle cx="143.7" cy="769.6" r="2.6"/>
<circle cx="149.1" cy="770.2" r="2.6"/>
<circle cx="153.2" cy="769.3" r="2.6"/>
<circle cx="156.4" cy="768.6" r="2.6"/>
<circle cx="160.6" cy="770.3" r="2.6"/>
<circle cx="164.4" cy="770.0" r="2.6"/>
<circle cx="167.2" cy="770.5" r="2.6"/>
<circle cx="173.3" cy="770.7" r="2.6"/>
<circle cx="176.1" cy="770.2" r="2.6"/>
<circle cx="179.5" cy="770.5" r="2.6"/>
<circle cx="134.0" cy="771.7" r="2.6"/>
<circle cx="138.9" cy="771.8" r="2.6"/>
<circle cx="142.8" cy="772.1" r="2.6"/>
<circle cx="145.5" cy="773.8" r="2.6"/>
<circle cx="149.0" cy="772.0" r="2.6"/>
<circle cx="154.0" cy="773.6" r="2.6"/>
<circle cx="159.0" cy="773.5" r="2.6"/>
<circle cx="163.2" cy="773.0" r="2.6"/>
<circle cx="167.3" cy="771.8" r="2.6"/>
<circle cx="169.2" cy="773.1" r="2.6"/>
<circle cx="173.4" cy="773.6" r="2.6"/>
<circle cx="178.4" cy="773.1" r="2.6"/>
<circle cx="137.3" cy="776.7" r="2.6"/>
<circle cx="140.2" cy="775.8" r="2.6"/>
<circle cx="144.1" cy="776.6" r="2.6"/>
<circle cx="148.3" cy="775.3" r="2.6"/>
<circle cx="153.3" cy="776.6" r="2.6"/>
<circle cx="155.7" cy="777.4" r="2.6"/>
<circle cx="160.2" cy="776.6" r="2.6"/>
<circle cx="164.5" cy="775.4" r="2.6"/>
<circle cx="168.1" cy="776.4" r="2.6"/>
<circle cx="173.3" cy="777.8" r="2.6"/>
<circle cx="175.4" cy="776.5" r="2.6"/>
<circle cx="141.1" cy="779.4" r="2.6"/>
<circle cx="146.5" cy="779.7" r="2.6"/>
<circle cx="149.6" cy="780.5" r="2.6"/>
<circle cx="152.9" cy="780.8" r="2.6"/>
<circle cx="156.9" cy="780.2" r="2.6"/>
<circle cx="161.3" cy="779.4" r="2.6"/>
<circle cx="166.1" cy="780.0" r="2.6"/>
<circle cx="169.7" cy="780.0" r="2.6"/>
</g>
<g fill="#f20a0a" stroke="#c0000a" stroke-width="0.8">
<circle cx="137.9" cy="703.5" r="2.25"/>
<circle cx="143.1" cy="705.2" r="2.25"/>
<circle cx="152.3" cy="707.8" r="2.25"/>
<circle cx="166.2" cy="703.2" r="2.25"/>
<circle cx="181.2" cy="701.5" r="2.25"/>
<circle cx="175.4" cy="705.8" r="2.25"/>
<circle cx="173.1" cy="709.0" r="2.25"/>
<circle cx="177.1" cy="714.2" r="2.25"/>
<circle cx="153.5" cy="713.0" r="2.25"/>
<circle cx="159.2" cy="712.3" r="2.25"/>
<circle cx="163.8" cy="711.3" r="2.25"/>
<circle cx="168.5" cy="713.2" r="2.25"/>
<circle cx="150.0" cy="717.6" r="2.25"/>
<circle cx="155.8" cy="719.6" r="2.25"/>
<circle cx="162.7" cy="719.8" r="2.25"/>
<circle cx="170.5" cy="718.2" r="2.25"/>
<circle cx="143.1" cy="719.3" r="2.25"/>
<circle cx="192.7" cy="718.8" r="2.25"/>
<circle cx="188.7" cy="723.4" r="2.25"/>
<circle cx="186.9" cy="729.2" r="2.25"/>
<circle cx="192.7" cy="732.6" r="2.25"/>
<circle cx="143.7" cy="725.7" r="2.25"/>
<circle cx="150.0" cy="725.1" r="2.25"/>
<circle cx="158.1" cy="725.7" r="2.25"/>
<circle cx="166.2" cy="726.8" r="2.25"/>
<circle cx="171.9" cy="725.7" r="2.25"/>
<circle cx="176.5" cy="725.7" r="2.25"/>
<circle cx="139.6" cy="730.3" r="2.25"/>
<circle cx="145.4" cy="731.5" r="2.25"/>
<circle cx="152.3" cy="731.5" r="2.25"/>
<circle cx="159.2" cy="732.6" r="2.25"/>
<circle cx="166.2" cy="730.3" r="2.25"/>
<circle cx="169.6" cy="732.6" r="2.25"/>
<circle cx="175.4" cy="731.5" r="2.25"/>
<circle cx="181.2" cy="732.6" r="2.25"/>
<circle cx="139.0" cy="734.9" r="2.25"/>
<circle cx="153.5" cy="736.1" r="2.25"/>
<circle cx="162.7" cy="736.1" r="2.25"/>
<circle cx="171.9" cy="736.1" r="2.25"/>
<circle cx="183.5" cy="734.9" r="2.25"/>
<circle cx="130.5" cy="718.7" r="2.25"/>
<circle cx="129.7" cy="724.1" r="2.25"/>
<circle cx="157.5" cy="722.5" r="2.25"/>
<circle cx="172.5" cy="721.5" r="2.25"/>
<circle cx="180.0" cy="722.0" r="2.25"/>
<circle cx="148.0" cy="721.5" r="2.25"/>
<circle cx="158.8" cy="716.0" r="2.25"/>
<circle cx="164.9" cy="716.2" r="2.25"/>
<circle cx="172.9" cy="714.1" r="2.25"/>
<circle cx="177.8" cy="715.5" r="2.25"/>
<circle cx="149.8" cy="719.3" r="2.25"/>
<circle cx="155.3" cy="720.6" r="2.25"/>
<circle cx="160.7" cy="719.5" r="2.25"/>
<circle cx="168.7" cy="721.2" r="2.25"/>
<circle cx="175.8" cy="719.3" r="2.25"/>
<circle cx="181.1" cy="720.8" r="2.25"/>
<circle cx="145.7" cy="724.4" r="2.25"/>
<circle cx="151.9" cy="724.3" r="2.25"/>
<circle cx="159.3" cy="725.4" r="2.25"/>
<circle cx="165.8" cy="724.6" r="2.25"/>
<circle cx="171.2" cy="724.7" r="2.25"/>
<circle cx="179.2" cy="726.6" r="2.25"/>
<circle cx="141.6" cy="731.7" r="2.25"/>
<circle cx="149.0" cy="731.2" r="2.25"/>
<circle cx="155.1" cy="730.5" r="2.25"/>
<circle cx="161.9" cy="730.4" r="2.25"/>
<circle cx="168.5" cy="729.4" r="2.25"/>
<circle cx="175.2" cy="731.4" r="2.25"/>
<circle cx="180.3" cy="730.5" r="2.25"/>
<circle cx="145.7" cy="735.0" r="2.25"/>
<circle cx="152.8" cy="734.6" r="2.25"/>
<circle cx="125.6" cy="736.7" r="2.25"/>
<circle cx="131.3" cy="737.2" r="2.25"/>
<circle cx="138.7" cy="735.0" r="2.25"/>
<circle cx="131.3" cy="745.7" r="2.25"/>
<circle cx="125.6" cy="748.9" r="2.25"/>
<circle cx="124.8" cy="755.5" r="2.25"/>
<circle cx="136.2" cy="754.7" r="2.25"/>
<circle cx="189.4" cy="744.0" r="2.25"/>
<circle cx="186.9" cy="753.0" r="2.25"/>
<circle cx="182.0" cy="749.0" r="2.25"/>
<circle cx="193.5" cy="762.0" r="2.25"/>
<circle cx="193.5" cy="766.9" r="2.25"/>
<circle cx="185.3" cy="765.3" r="2.25"/>
<circle cx="115.0" cy="758.7" r="2.25"/>
<circle cx="119.9" cy="762.0" r="2.25"/>
<circle cx="120.7" cy="766.1" r="2.25"/>
<circle cx="119.9" cy="780.0" r="2.25"/>
<circle cx="116.6" cy="784.1" r="2.25"/>
<circle cx="121.5" cy="786.5" r="2.25"/>
<circle cx="118.3" cy="789.8" r="2.25"/>
<circle cx="124.8" cy="790.6" r="2.25"/>
<circle cx="131.3" cy="782.4" r="2.25"/>
<circle cx="133.0" cy="787.4" r="2.25"/>
<circle cx="136.2" cy="791.4" r="2.25"/>
<circle cx="133.0" cy="791.4" r="2.25"/>
<circle cx="159.1" cy="789.0" r="2.25"/>
<circle cx="160.8" cy="793.1" r="2.25"/>
<circle cx="159.1" cy="780.8" r="2.25"/>
<circle cx="172.2" cy="780.0" r="2.25"/>
<circle cx="180.4" cy="786.5" r="2.25"/>
<circle cx="185.3" cy="783.3" r="2.25"/>
<circle cx="186.9" cy="775.1" r="2.25"/>
<circle cx="180.4" cy="781.6" r="2.25"/>
<circle cx="82.8" cy="796.5" r="2.25"/>
<circle cx="98.8" cy="794.4" r="2.25"/>
<circle cx="98.8" cy="804.4" r="2.25"/>
<circle cx="106.2" cy="799.8" r="2.25"/>
<circle cx="117.5" cy="804.4" r="2.25"/>
<circle cx="101.2" cy="786.2" r="2.25"/>
<circle cx="105.0" cy="787.8" r="2.25"/>
<circle cx="106.9" cy="778.1" r="2.25"/>
<circle cx="114.4" cy="777.5" r="2.25"/>
<circle cx="120.0" cy="779.4" r="2.25"/>
<circle cx="109.4" cy="767.8" r="2.25"/>
<circle cx="113.8" cy="760.6" r="2.25"/>
<circle cx="145.0" cy="809.8" r="2.25"/>
<circle cx="160.4" cy="793.4" r="2.25"/>
<circle cx="186.5" cy="774.9" r="2.25"/>
<circle cx="186.5" cy="782.6" r="2.25"/>
<circle cx="180.8" cy="781.1" r="2.25"/>
<circle cx="180.4" cy="787.2" r="2.25"/>
<circle cx="158.8" cy="779.5" r="2.25"/>
<circle cx="161.2" cy="784.2" r="2.25"/>
<circle cx="161.2" cy="788.8" r="2.25"/>
<circle cx="121.5" cy="761.8" r="2.25"/>
<circle cx="121.9" cy="766.5" r="2.25"/>
<circle cx="120.8" cy="778.8" r="2.25"/>
<circle cx="122.3" cy="785.7" r="2.25"/>
<circle cx="124.6" cy="790.3" r="2.25"/>
<circle cx="121.5" cy="791.0" r="2.25"/>
<circle cx="130.8" cy="790.3" r="2.25"/>
<circle cx="135.4" cy="790.3" r="2.25"/>
<circle cx="137.7" cy="791.0" r="2.25"/>
<circle cx="157.7" cy="779.5" r="2.25"/>
<circle cx="159.2" cy="784.2" r="2.25"/>
<circle cx="158.5" cy="792.6" r="2.25"/>
<circle cx="193.5" cy="762.6" r="2.25"/>
<circle cx="193.1" cy="766.1" r="2.25"/>
<circle cx="189.2" cy="744.5" r="2.25"/>
<circle cx="181.8" cy="750.2" r="2.25"/>
<circle cx="186.5" cy="753.2" r="2.25"/>
<circle cx="193.9" cy="761.6" r="2.25"/>
<circle cx="132.3" cy="773.4" r="2.25"/>
<circle cx="136.2" cy="772.6" r="2.25"/>
<circle cx="140.8" cy="773.4" r="2.25"/>
<circle cx="145.4" cy="774.2" r="2.25"/>
<circle cx="150.0" cy="775.0" r="2.25"/>
<circle cx="153.8" cy="775.7" r="2.25"/>
<circle cx="138.5" cy="779.9" r="2.25"/>
<circle cx="143.8" cy="781.1" r="2.25"/>
<circle cx="131.5" cy="782.6" r="2.25"/>
<circle cx="133.1" cy="786.5" r="2.25"/>
<circle cx="165.8" cy="780.3" r="2.25"/>
<circle cx="170.4" cy="774.2" r="2.25"/>
<circle cx="176.5" cy="774.2" r="2.25"/>
<circle cx="172.3" cy="779.2" r="2.25"/>
<circle cx="126.9" cy="771.1" r="2.25"/>
</g>
<g fill="#fff">
<circle cx="165.0" cy="715.9" r="1.9"/>
<circle cx="152.3" cy="739.6" r="1.9"/>
<circle cx="158.1" cy="740.2" r="1.9"/>
<circle cx="159.8" cy="767.3" r="1.9"/>
<circle cx="169.6" cy="768.5" r="1.9"/>
<circle cx="152.6" cy="775.1" r="1.9"/>
<circle cx="141.2" cy="773.5" r="1.9"/>
<circle cx="134.6" cy="767.0" r="1.9"/>
<circle cx="175.0" cy="743.0" r="1.9"/>
<circle cx="147.0" cy="760.0" r="1.9"/>
<circle cx="165.0" cy="715.9" r="1.9"/>
<circle cx="157.0" cy="720.5" r="1.9"/>
</g>
<line x1="82.5" y1="789.8" x2="195" y2="736.3" stroke="#1313a6" stroke-width="2.2"/>
<rect x="1.15" y="1.15" width="517.7" height="884.7" fill="none" stroke="#000" stroke-width="2.3"/>
</svg></body></html>
